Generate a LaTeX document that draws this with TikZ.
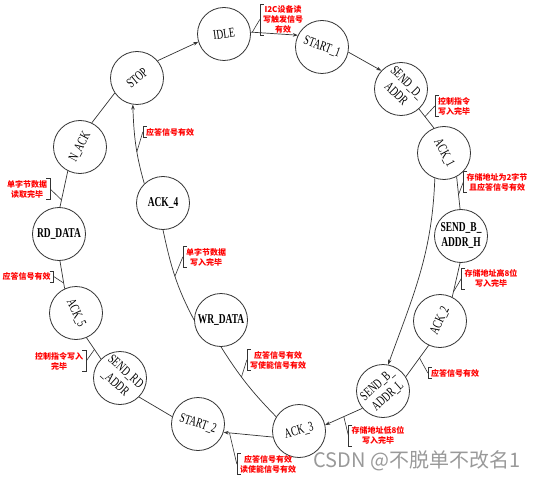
\documentclass[tikz,border=0pt]{standalone}
\usepackage{fontspec}
\usepackage{graphicx}
\newfontfamily\stfont[FakeStretch=0.7]{Liberation Serif}
\newfontfamily\cjk{Noto Sans CJK SC}
\usetikzlibrary{arrows.meta}

\newcommand{\twoline}[2]{\begin{tabular}{@{}c@{}}#1\\#2\end{tabular}}
% bracket on the left of a note, leader to a point on an edge
\newcommand{\noteW}[2]{%
  \draw[brk] ([xshift=4bp]#1.north west) -- (#1.north west) -- (#1.south west) -- ([xshift=4bp]#1.south west);
  \draw[brk] (#1.west) -- (#2);}
% bracket on the right
\newcommand{\noteE}[2]{%
  \draw[brk] ([xshift=-4bp]#1.north east) -- (#1.north east) -- (#1.south east) -- ([xshift=-4bp]#1.south east);
  \draw[brk] (#1.east) -- (#2);}

\begin{document}
\begin{tikzpicture}[x=1bp, y=-1bp, >={Stealth[length=5bp, width=3.6bp]},
  st/.style={circle, draw=black!80, line width=0.8bp, minimum size=53bp, inner sep=-8bp, font=\stfont\fontsize{13.5bp}{15.5bp}\selectfont},
  stb/.style={st, font=\stfont\bfseries\fontsize{13.5bp}{15.5bp}\selectfont},
  ln/.style={draw=black!80, line width=0.7bp},
  brk/.style={draw=black!80, line width=0.6bp},
  note/.style={text=red, font=\cjk\bfseries\fontsize{8bp}{10bp}\selectfont, align=center, inner xsep=3bp, inner ysep=1.5bp},
  wm/.style={text=black!40, font=\cjk\fontsize{20bp}{22bp}\selectfont}]
  \useasboundingbox (0,0) rectangle (534,480);

  % states
  \node [st] (idle) at (224,34) {\rotatebox{8}{IDLE}};
  \node [st] (start1) at (322,47) {\rotatebox{-20}{START\_1}};
  \node [st] (sendd) at (401,89) {\rotatebox{-45}{\twoline{SEND\_D\_}{ADDR}}};
  \node [st] (ack1) at (444,153) {\rotatebox{-62}{ACK\_1}};
  \node [stb] (sendbh) at (461,236) {\twoline{SEND\_B\_}{ADDR\_H}};
  \node [st] (ack2) at (440,321) {\rotatebox{65}{ACK\_2}};
  \node [st] (sendbl) at (383,391) {\rotatebox{42}{\twoline{SEND\_B\_}{ADDR\_L}}};
  \node [st] (ack3) at (299,431) {\rotatebox{15}{ACK\_3}};
  \node [st] (start2) at (198,424) {\rotatebox{-18}{START\_2}};
  \node [st] (sendrd) at (120,378) {\rotatebox{-42}{\twoline{SEND\_RD}{\_ADDR}}};
  \node [st] (ack5) at (76,313) {\rotatebox{-65}{ACK\_5}};
  \node [stb] (rddata) at (59,234) {RD\_DATA};
  \node [st] (nack) at (80,147) {\rotatebox{62}{N\_ACK}};
  \node [st] (stop) at (137,78) {\rotatebox{40}{STOP}};
  \node [stb] (ack4) at (163,203) {ACK\_4};
  \node [stb] (wrdata) at (221,320) {WR\_DATA};

  % transitions
  \draw[ln, ->] (idle.4) -- coordinate[pos=0.03] (c1) (start1.154);
  \draw[ln, ->] (start1.-11) -- (sendd.137);
  \draw[ln] (sendd.-48) -- coordinate[pos=0.4] (c2) (ack1.112);
  \draw[ln] (ack1.-62) -- coordinate[pos=0.55] (c3) (sendbh.92);
  \draw[ln, ->] (ack1.-110) to[out=-92, in=70] (sendbl.79);
  \draw[ln] (sendbh.-92) -- coordinate[pos=0.85] (c4) (ack2.63);
  \draw[ln] (ack2.-115) -- coordinate[pos=0.4] (c5) (sendbl.32);
  \draw[ln, ->] (sendbl.-140) -- coordinate[pos=0.5] (c6) (ack3.13);
  \draw[ln, ->] (ack3.-167) -- coordinate[pos=0.88] (c8) (start2.-18);
  \draw[ln] (ack3.148) to[bend left=6] coordinate[pos=0.6] (c7) (wrdata.-90);
  \draw[ln] (wrdata.180) to[out=118, in=-78] coordinate[pos=0.5] (c9) (ack4.-90);
  \draw[ln, ->] (ack4.134) to[out=106, in=-88] coordinate[pos=0.4] (c10) (stop.-99);
  \draw[ln, ->] (stop.40) -- (idle.197);
  \draw[ln] (start2.164) -- (sendrd.-45);
  \draw[ln] (sendrd.135) -- coordinate[pos=0.45] (c13) (ack5.-67);
  \draw[ln] (ack5.115) -- coordinate[pos=0.2] (c12) (rddata.-88);
  \draw[ln] (rddata.88) -- coordinate[pos=0.2] (c11) (nack.-117);
  \draw[ln] (nack.64) -- (stop.-146);

  % conditions
  \node [note] (n1) at (283,19.5) {I2C设备读\\写触发信号\\有效};
  \noteW{n1}{c1}
  \node [note] (n2) at (454,106) {控制指令\\写入完毕};
  \noteW{n2}{c2}
  \node [note] (n3) at (497,182) {存储地址为2字节\\且应答信号有效};
  \noteW{n3}{c3}
  \node [note] (n4) at (491,278.5) {存储地址高8位\\写入完毕};
  \noteW{n4}{c4}
  \node [note] (n5) at (455,373) {应答信号有效};
  \noteW{n5}{c5}
  \node [note] (n6) at (378,435.5) {存储地址低8位\\写入完毕};
  \noteW{n6}{c6}
  \node [note] (n7) at (278,360) {应答信号有效\\写使能信号有效};
  \noteW{n7}{c7}
  \node [note] (n8) at (268,464) {应答信号有效\\读使能信号有效};
  \noteW{n8}{c8}
  \node [note] (n9) at (206,257) {单字节数据\\写入完毕};
  \noteW{n9}{c9}
  \node [note] (n10) at (170,132) {应答信号有效};
  \noteW{n10}{c10}
  \node [note] (n11) at (27,189) {单字节数据\\读取完毕};
  \noteE{n11}{c11}
  \node [note] (n12) at (26.5,276.5) {应答信号有效};
  \noteE{n12}{c12}
  \node [note] (n13) at (59,361) {控制指令写入\\完毕};
  \noteE{n13}{c13}

  \node [wm] (csdn) at (417,461) {CSDN @不脱单不改名1};
\end{tikzpicture}
\end{document}
